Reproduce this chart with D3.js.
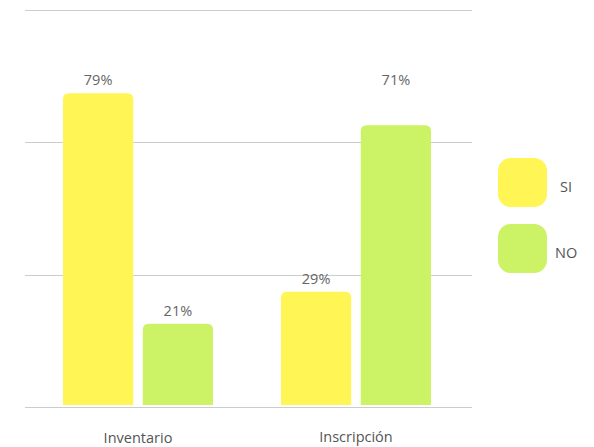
<!DOCTYPE html>
<html><head><meta charset="utf-8">
<script src="https://cdn.jsdelivr.net/npm/d3@7"></script>
<style>body{margin:0;background:#fff}svg{display:block;font-family:"Open Sans",sans-serif}</style>
</head><body><svg id="c" width="594" height="447"></svg>
<script>
const categories = ["Inventario", "Inscripción"];
const seriesNames = ["SI", "NO"];
const siValues = [79, 29];
const noValues = [21, 71];
const yTicks = [0, 33.33, 66.67, 100];
const colors = ["#FFF655", "#CCF266"];

const svg = d3.select("#c");
const y = d3.scaleLinear().domain([0, 100]).range([407, 10]);
const x0 = d3.scaleBand().domain(categories).range([29, 465]).padding(0);
const inner = 150;
const x1 = d3.scaleBand().domain(seriesNames).range([0, inner]).paddingInner(0.12);

// grid
svg.append("g").selectAll("line").data(yTicks).join("line")
  .attr("x1", 25).attr("x2", 472)
  .attr("y1", d => Math.round(y(d)) + 0.5).attr("y2", d => Math.round(y(d)) + 0.5)
  .attr("stroke", "#cccccc").attr("stroke-width", 1);

const data = categories.map((c, i) => ({cat: c, vals: [siValues[i], noValues[i]]}));
const maxV = d3.max([...siValues, ...noValues]);

function topRounded(x, yTop, w, yBot, r) {
  return `M${x},${yBot}V${yTop + r}Q${x},${yTop} ${x + r},${yTop}H${x + w - r}Q${x + w},${yTop} ${x + w},${yTop + r}V${yBot}Z`;
}

const g = svg.append("g").selectAll("g").data(data).join("g")
  .attr("transform", d => `translate(${x0(d.cat) + (x0.bandwidth() - inner) / 2},0)`);

g.selectAll("path").data(d => d.vals.map((v, i) => ({s: seriesNames[i], v, i}))).join("path")
  .attr("d", d => topRounded(x1(d.s), y(d.v), x1.bandwidth(), 405, 6))
  .attr("fill", d => colors[d.i]);

g.selectAll("text").data(d => d.vals.map((v, i) => ({s: seriesNames[i], v, i}))).join("text")
  .attr("x", d => x1(d.s) + x1.bandwidth() / 2)
  .attr("y", d => (d.v > 70 ? y(maxV) : y(d.v)) - 8)
  .attr("text-anchor", "middle").attr("font-size", 14.5).attr("fill", "#666")
  .text(d => d.v + "%");

// category labels
svg.append("g").selectAll("text").data(categories).join("text")
  .attr("x", d => x0(d) + x0.bandwidth() / 2)
  .attr("y", (d, i) => 442.5 - i).attr("text-anchor", "middle").attr("font-size", 14.5).attr("fill", "#555")
  .text(d => d);

// legend
const lg = svg.append("g").selectAll("g").data(seriesNames).join("g")
  .attr("transform", (d, i) => `translate(498,${158 + i * 66})`);
lg.append("rect").attr("width", 49).attr("height", 49).attr("rx", 13).attr("fill", (d, i) => colors[i]);
lg.append("text").attr("x", d => d === "SI" ? 62 : 57).attr("y", 34).attr("font-size", 14.5).attr("fill", "#555").text(d => d);
</script></body></html>
